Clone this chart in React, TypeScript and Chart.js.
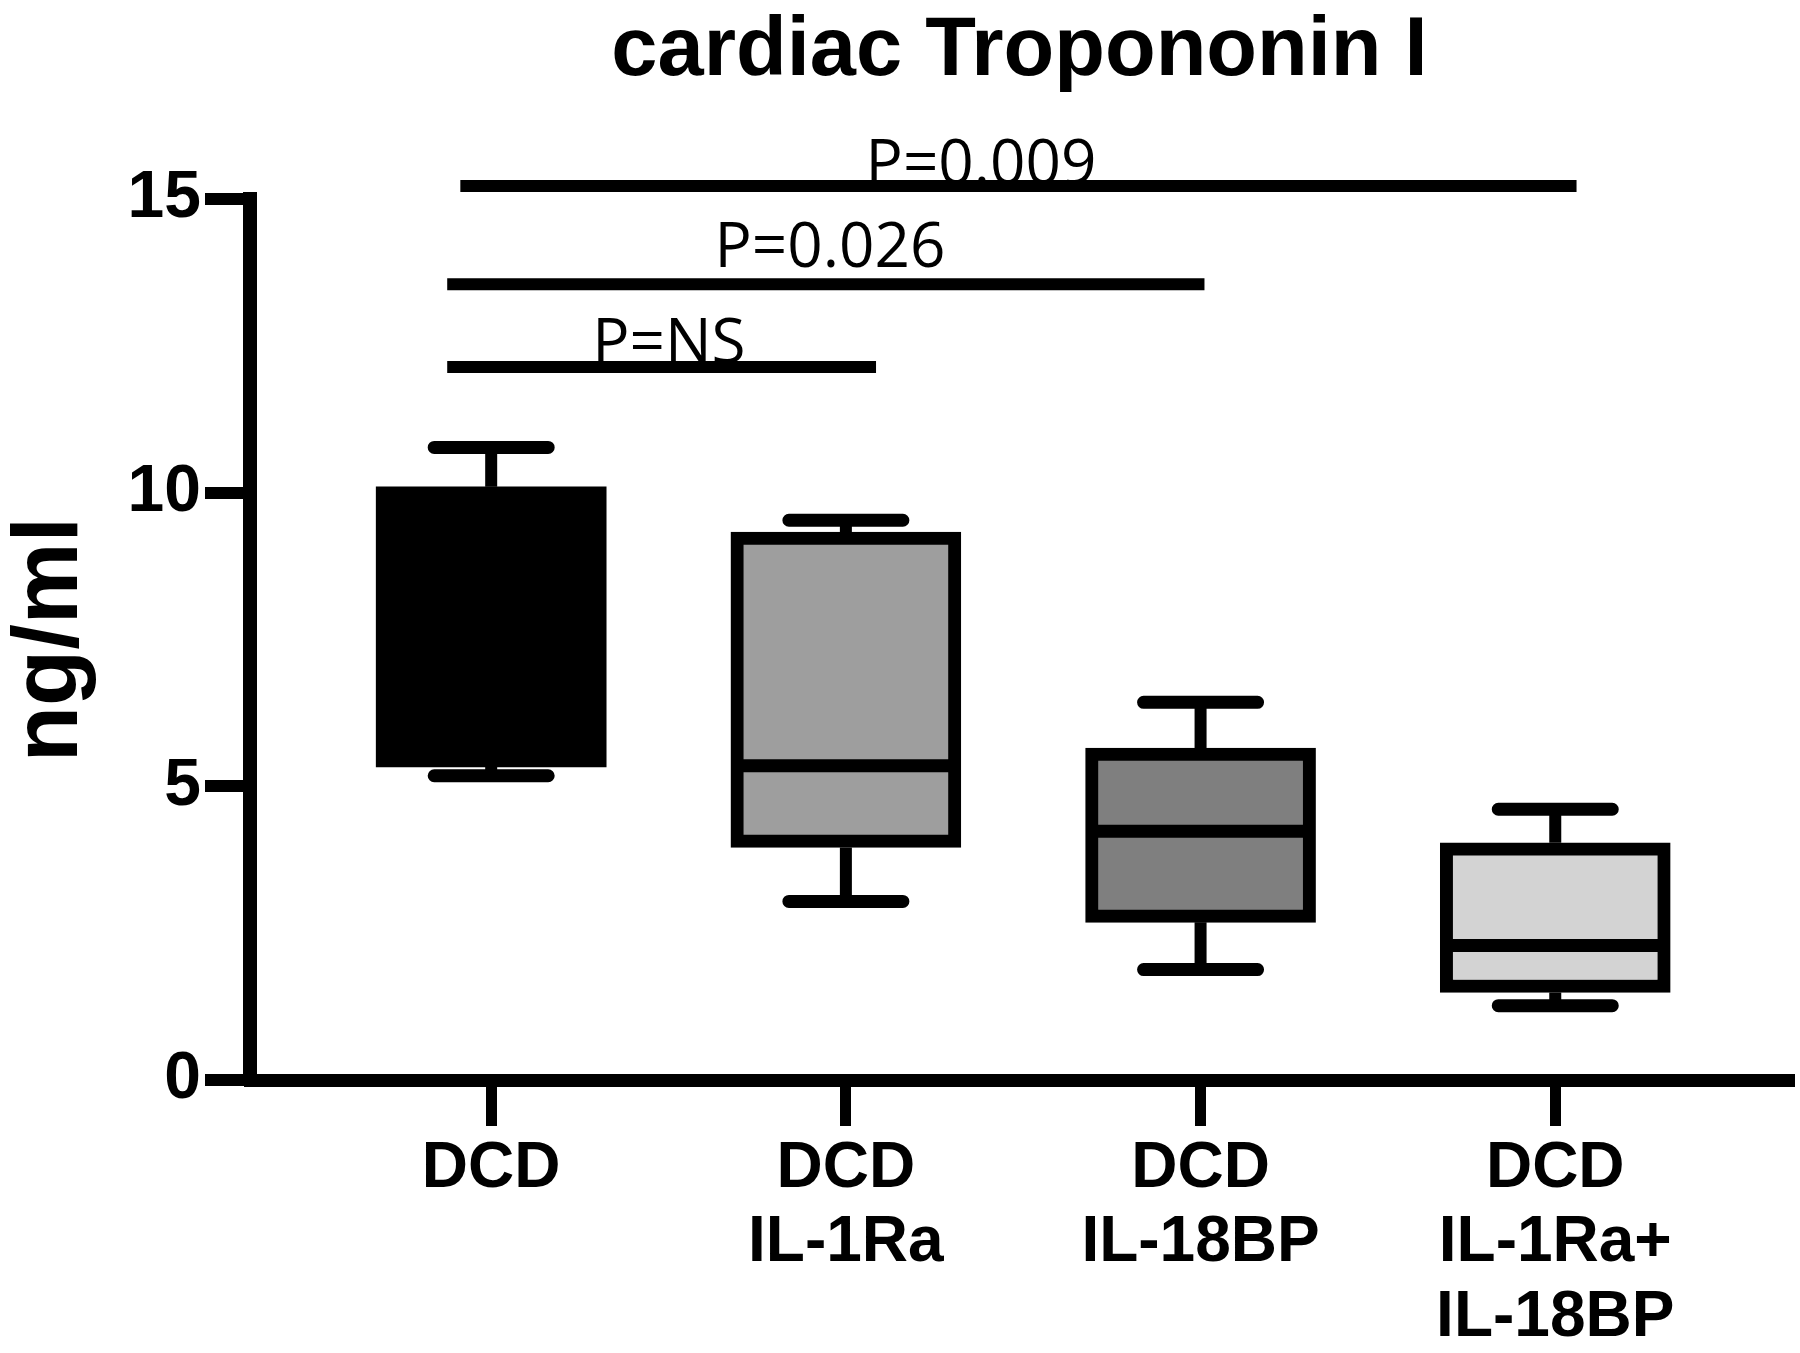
import React, { useEffect, useRef } from 'react';
import { Chart, registerables } from 'chart.js';

Chart.register(...registerables);

// ---- data ----
const titleText = 'cardiac Tropononin I';
const yTitle = 'ng/ml';
const categories: string[][] = [
  ['DCD'],
  ['DCD', 'IL-1Ra'],
  ['DCD', 'IL-18BP'],
  ['DCD', 'IL-1Ra+', 'IL-18BP'],
];
const boxLow = [5.33, 3.96, 2.685, 1.49];
const boxHigh = [10.1, 9.33, 5.65, 4.04];
const medians = [7.8, 5.35, 4.235, 2.29];
const whiskerLow = [5.18, 3.04, 1.88, 1.265];
const whiskerHigh = [10.77, 9.53, 6.43, 4.61];
const boxColors = ['#000000', '#9e9e9e', '#7f7f7f', '#d3d3d3'];
const boxBorders = [0, 13, 13, 13];
const yTickValues = [0, 5, 10, 15];

const sigLabels = ['P=0.009', 'P=0.026', 'P=NS'];
const sigStart = [-0.087, -0.124, -0.124];
const sigEnd = [3.06, 2.011, 1.085];
const sigLevel = [15.22, 13.55, 12.14];
const sigLabelX = [1.381, 0.955, 0.501];
const sigLabelY = [15.26, 13.84, 12.21];

const FONT = '"Liberation Sans", Arial, Helvetica, sans-serif';

const boxPlugin = {
  id: 'boxWhiskers',
  beforeDatasetsDraw(chart: any) {
    const { ctx, scales } = chart;
    const x = scales.x, y = scales.y;
    ctx.save();
    ctx.strokeStyle = '#000';
    categories.forEach((_, i) => {
      const xc = x.getPixelForValue(i);
      ctx.lineCap = 'butt';
      ctx.lineWidth = 12;
      ctx.beginPath();
      ctx.moveTo(xc, y.getPixelForValue(boxHigh[i]));
      ctx.lineTo(xc, y.getPixelForValue(whiskerHigh[i]));
      ctx.moveTo(xc, y.getPixelForValue(boxLow[i]));
      ctx.lineTo(xc, y.getPixelForValue(whiskerLow[i]));
      ctx.stroke();
      ctx.lineCap = 'round';
      ctx.lineWidth = 13;
      ctx.beginPath();
      [whiskerHigh[i], whiskerLow[i]].forEach((v) => {
        const yy = y.getPixelForValue(v);
        ctx.moveTo(xc - 57, yy);
        ctx.lineTo(xc + 57, yy);
      });
      ctx.stroke();
    });
    ctx.restore();
  },
  afterDatasetsDraw(chart: any) {
    const { ctx, scales } = chart;
    const x = scales.x, y = scales.y;
    ctx.save();
    ctx.strokeStyle = '#000';
    ctx.lineWidth = 13;
    ctx.lineCap = 'butt';
    categories.forEach((_, i) => {
      const xc = x.getPixelForValue(i);
      const yy = y.getPixelForValue(medians[i]);
      ctx.beginPath();
      ctx.moveTo(xc - 112, yy);
      ctx.lineTo(xc + 112, yy);
      ctx.stroke();
    });
    ctx.restore();
  },
  afterDraw(chart: any) {
    const { ctx, scales } = chart;
    const x = scales.x, y = scales.y;
    ctx.save();
    ctx.strokeStyle = '#000';
    ctx.fillStyle = '#000';
    ctx.lineWidth = 12;
    ctx.lineCap = 'butt';
    ctx.font = '62px "Open Sans", "Noto Sans", sans-serif';
    ctx.textAlign = 'center';
    ctx.textBaseline = 'alphabetic';
    sigLabels.forEach((lab, i) => {
      const yy = y.getPixelForValue(sigLevel[i]);
      ctx.beginPath();
      ctx.moveTo(x.getPixelForValue(sigStart[i]), yy);
      ctx.lineTo(x.getPixelForValue(sigEnd[i]), yy);
      ctx.stroke();
      ctx.fillText(lab, x.getPixelForValue(sigLabelX[i]), y.getPixelForValue(sigLabelY[i]));
    });
    ctx.restore();
  },
};

export default function App() {
  const ref = useRef<HTMLCanvasElement | null>(null);
  useEffect(() => {
    document.body.style.margin = '0';
    const canvas = ref.current;
    if (!canvas) return;
    const chart = new Chart(canvas, {
      type: 'bar',
      data: {
        datasets: [
          {
            data: categories.map((_, i) => ({ x: i, y: [boxLow[i], boxHigh[i]] })) as any,
            backgroundColor: boxColors,
            borderColor: '#000',
            borderWidth: boxBorders,
            borderSkipped: false,
            barThickness: 230,
          } as any,
        ],
      },
      options: {
        responsive: false,
        animation: false,
        devicePixelRatio: 1,
        layout: { padding: { left: 0, right: 11, top: 0, bottom: 0 } },
        plugins: {
          legend: { display: false },
          tooltip: { enabled: false },
          title: {
            display: true,
            text: titleText,
            fullSize: false,
            color: '#000',
            font: { family: FONT, size: 83, weight: 'bold', lineHeight: 1.2 },
            padding: { top: 2, bottom: 97.4 },
          },
        },
        scales: {
          x: {
            type: 'linear',
            min: -0.68,
            max: 3.659,
            offset: false,
            afterBuildTicks: (axis: any) => {
              axis.ticks = categories.map((_, i) => ({ value: i }));
            },
            afterFit: (s: any) => {
              s.height = 273;
            },
            ticks: {
              autoSkip: false,
              maxRotation: 0,
              minRotation: 0,
              padding: 6,
              color: '#000',
              font: { family: FONT, size: 64, weight: 'bold', lineHeight: 74.5 / 64 },
              callback: (v: any) => categories[Math.round(Number(v))] ?? '',
            },
            grid: {
              offset: false,
              drawOnChartArea: false,
              drawTicks: true,
              tickLength: 46,
              lineWidth: 11,
              color: '#000',
            },
            border: { display: true, width: 13, color: '#000' },
          },
          y: {
            type: 'linear',
            min: 0,
            max: 15,
            afterBuildTicks: (axis: any) => {
              axis.ticks = yTickValues.map((v) => ({ value: v }));
            },
            afterFit: (s: any) => {
              s.width = 250;
            },
            ticks: {
              padding: 4,
              color: '#000',
              font: { family: FONT, size: 66, weight: 'bold' },
            },
            grid: {
              drawOnChartArea: false,
              drawTicks: true,
              tickLength: 45,
              lineWidth: 12,
              color: '#000',
            },
            border: { display: true, width: 14, color: '#000' },
            title: {
              display: true,
              text: yTitle,
              color: '#000',
              font: { family: FONT, size: 92, weight: 'bold', lineHeight: 1.0 },
              padding: { top: 6, bottom: 0 },
            },
          },
        },
      } as any,
      plugins: [boxPlugin],
    });
    return () => chart.destroy();
  }, []);
  return (
    <canvas
      ref={ref}
      width={1800}
      height={1353}
      style={{ display: 'block', width: '1800px', height: '1353px' }}
    />
  );
}
